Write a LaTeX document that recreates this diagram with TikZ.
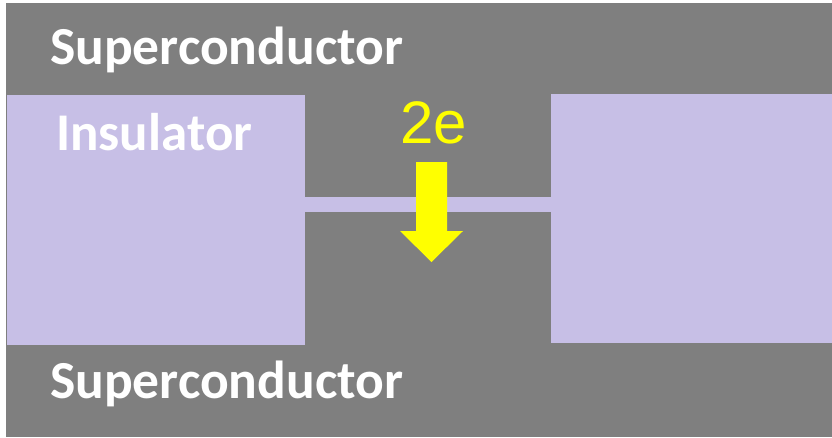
\documentclass[tikz,border=0pt]{standalone}
\usepackage{fontspec}
\setmainfont{Carlito}
\newfontfamily\arialf{Liberation Sans}
\definecolor{sc}{HTML}{7F7F7F}
\definecolor{ins}{HTML}{C7BFE6}
\definecolor{yel}{HTML}{FFFF00}
\begin{document}
\begin{tikzpicture}[x=1pt,y=-1pt,
  lbl/.style={text=white,anchor=base west,inner sep=0pt,font=\bfseries\fontsize{53.5}{53.5}\selectfont}]
\useasboundingbox (0,0) rectangle (832,437);
\fill[white] (0,0) rectangle (832,437);
\fill[sc] (6,3) rectangle (832,437);
\fill[ins] (7,95) rectangle (305,345);
\fill[ins] (551,94) rectangle (832,343);
\fill[ins] (305,197) rectangle (551,212);
\node[lbl] (top) at (50,64) {Superconductor};
\node[lbl] (bot) at (50,398) {Superconductor};
\node[lbl,font=\bfseries\fontsize{53}{53}\selectfont] (ins) at (56,150) {Insulator};
\node[text=yel,font=\arialf\fontsize{60}{60}\selectfont,anchor=base,inner sep=0pt] (e2) at (434,143) {2e};
\fill[yel] (416,162) -- (447,162) -- (447,231) -- (463,231) -- (431.5,262) -- (400,231) -- (416,231) -- cycle;
\end{tikzpicture}
\end{document}
